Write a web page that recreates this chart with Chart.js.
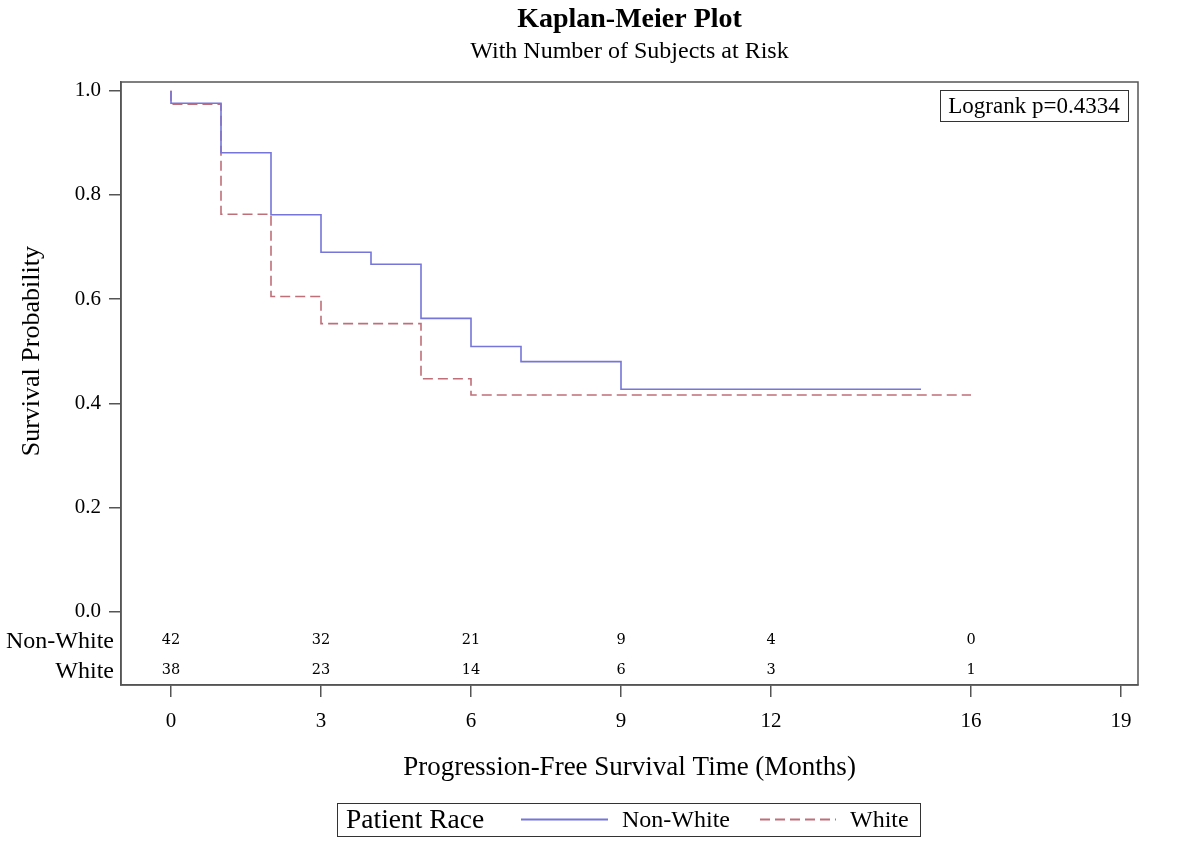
<!DOCTYPE html>
<html>
<head>
<meta charset="utf-8">
<script src="https://cdn.jsdelivr.net/npm/chart.js@4.4.0/dist/chart.umd.min.js"></script>
<style>
  body { margin: 0; background: #fff; }
  #wrap { width: 1180px; height: 854px; }
</style>
</head>
<body>
<div id="wrap"><canvas id="kmChart" width="1180" height="854"></canvas></div>
<script>
// survival curves (step points: time, survival after that time)
const nonWhiteTime = [0, 0, 1, 2, 3, 4, 5, 6, 7, 9, 15];
const nonWhiteSurv = [1.0, 0.976, 0.881, 0.762, 0.690, 0.667, 0.563, 0.509, 0.480, 0.427, 0.427];
const whiteTime = [0, 0, 1, 2, 3, 5, 6, 16];
const whiteSurv = [1.0, 0.974, 0.763, 0.605, 0.553, 0.447, 0.416, 0.416];

// number at risk table
const riskTimes = [0, 3, 6, 9, 12, 16];
const nonWhiteAtRisk = [42, 32, 21, 9, 4, 0];
const whiteAtRisk = [38, 23, 14, 6, 3, 1];

// axis ticks
const xTicks = [0, 3, 6, 9, 12, 16, 19];
const yTicks = [0, 0.2, 0.4, 0.6, 0.8, 1.0];

const blue = '#7575da';
const red = '#c06f78';
const axisColor = '#555';
const serif = '"Liberation Serif", "Times New Roman", serif';

function toPoints(xs, ys) {
    return xs.map((x, i) => ({ x: x, y: ys[i] }));
}

// extra drawing: frame, titles, at-risk table, logrank box, legend
const kmDecor = {
    id: 'kmDecor',
    afterDraw(chart) {
        const ctx = chart.ctx;
        const a = chart.chartArea;
        const xs = chart.scales.x;
        const ys = chart.scales.y;
        const cx = (a.left + a.right) / 2;
        ctx.save();

        // frame
        ctx.strokeStyle = axisColor;
        ctx.lineWidth = 1.5;
        ctx.strokeRect(a.left, a.top, a.right - a.left, a.bottom - a.top);

        ctx.fillStyle = '#000';
        ctx.textBaseline = 'alphabetic';

        // titles
        ctx.textAlign = 'center';
        ctx.font = 'bold 28px ' + serif;
        ctx.fillText('Kaplan-Meier Plot', cx, 27);
        ctx.font = '24px ' + serif;
        ctx.fillText('With Number of Subjects at Risk', cx, 58);

        // x axis title
        ctx.font = '27px ' + serif;
        ctx.fillText('Progression-Free Survival Time (Months)', cx, 775);

        // y axis title, centred on 0..1
        ctx.save();
        ctx.translate(39, (ys.getPixelForValue(0) + ys.getPixelForValue(1)) / 2);
        ctx.rotate(-Math.PI / 2);
        ctx.font = '26px ' + serif;
        ctx.fillText('Survival Probability', 0, 0);
        ctx.restore();

        // at-risk rows
        const rows = [
            { label: 'Non-White', y: ys.getPixelForValue(-0.055), vals: nonWhiteAtRisk },
            { label: 'White', y: ys.getPixelForValue(-0.113), vals: whiteAtRisk }
        ];
        ctx.textBaseline = 'middle';
        rows.forEach(r => {
            ctx.textAlign = 'right';
            ctx.font = '24px ' + serif;
            ctx.fillText(r.label, a.left - 7, r.y + 1);
            ctx.textAlign = 'center';
            ctx.font = '14.5px "DejaVu Serif", serif';
            r.vals.forEach((v, i) => {
                ctx.fillText(String(v), xs.getPixelForValue(riskTimes[i]), r.y);
            });
        });

        // logrank box
        ctx.font = '23px ' + serif;
        ctx.textAlign = 'center';
        ctx.strokeStyle = '#333';
        ctx.lineWidth = 1;
        ctx.strokeRect(940.5, 90.5, 188, 31);
        ctx.fillText('Logrank p=0.4334', 1034, 107);

        // legend
        ctx.strokeStyle = '#333';
        ctx.strokeRect(337.5, 803.5, 583, 33);
        ctx.textAlign = 'left';
        ctx.font = '27.5px ' + serif;
        ctx.fillText('Patient Race', 346, 821);
        ctx.font = '24px ' + serif;
        ctx.fillText('Non-White', 622, 821);
        ctx.fillText('White', 850, 821);
        ctx.lineWidth = 2;
        ctx.strokeStyle = blue;
        ctx.beginPath();
        ctx.moveTo(521, 819.5);
        ctx.lineTo(608, 819.5);
        ctx.stroke();
        ctx.strokeStyle = red;
        ctx.setLineDash([10, 5]);
        ctx.beginPath();
        ctx.moveTo(760, 819.5);
        ctx.lineTo(836, 819.5);
        ctx.stroke();

        ctx.restore();
    }
};

new Chart(document.getElementById('kmChart').getContext('2d'), {
    type: 'line',
    data: {
        datasets: [{
            label: 'Non-White',
            data: toPoints(nonWhiteTime, nonWhiteSurv),
            borderColor: blue,
            borderWidth: 1.6,
            stepped: true,
            pointRadius: 0,
            fill: false
        }, {
            label: 'White',
            data: toPoints(whiteTime, whiteSurv),
            borderColor: red,
            borderWidth: 1.6,
            borderDash: [10, 5],
            stepped: true,
            pointRadius: 0,
            fill: false
        }]
    },
    options: {
        responsive: false,
        animation: false,
        layout: { padding: { left: 0, top: 82, right: 42, bottom: 0 } },
        plugins: {
            legend: { display: false },
            tooltip: { enabled: false }
        },
        scales: {
            x: {
                type: 'linear',
                min: -1,
                max: 19.34,
                afterBuildTicks: s => { s.ticks = xTicks.map(v => ({ value: v })); },
                afterFit: s => { s.height = 169; },
                grid: { drawOnChartArea: false, tickLength: 12, color: axisColor, lineWidth: 1.5 },
                border: { color: axisColor, width: 1.5 },
                ticks: {
                    color: '#000',
                    padding: 12,
                    maxRotation: 0,
                    font: { family: serif, size: 21 }
                }
            },
            y: {
                min: -0.1407,
                max: 1.0167,
                afterBuildTicks: s => { s.ticks = yTicks.map(v => ({ value: v })); },
                afterFit: s => { s.width = 121; },
                grid: { drawOnChartArea: false, tickLength: 12, color: axisColor, lineWidth: 1.5 },
                border: { color: axisColor, width: 1.5 },
                ticks: {
                    color: '#000',
                    padding: 8,
                    callback: v => v.toFixed(1),
                    font: { family: serif, size: 21 }
                }
            }
        }
    },
    plugins: [kmDecor]
});
</script>
</body>
</html>
